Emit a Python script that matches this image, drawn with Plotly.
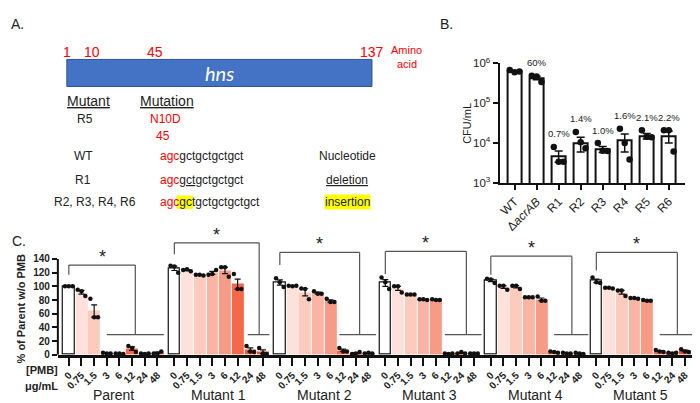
import numpy as np
import plotly.graph_objects as go

W, H = 700, 403
FONT = "Liberation Sans, Arial, sans-serif"

# ---------------- Panel B data ----------------
b_strains = ["WT", "\u0394<i>acrAB</i>", "R1", "R2", "R3", "R4", "R5", "R6"]
b_means = [6.3e5, 4.3e5, 4.8e3, 1.0e4, 7.0e3, 1.15e4, 1.5e4, 1.5e4]
b_sem = [2.5e4, 4.5e4, 1.5e3, 4.0e3, 1.2e3, 5.5e3, 2.3e3, 5.0e3]
b_rep1 = [6.8e5, 4.9e5, 8.0e3, 1.9e4, 1.0e4, 2.3e4, 2.1e4, 2.1e4]
b_rep2 = [6.0e5, 4.7e5, 3.4e3, 1.05e4, 6.4e3, 1.0e4, 1.45e4, 2.1e4]
b_rep3 = [6.2e5, 3.4e5, 3.4e3, 7.4e3, 6.3e3, 3.9e3, 1.4e4, 6.2e3]
b_pct = ["", "60%", "0.7%", "1.4%", "1.0%", "1.6%", "2.1%", "2.2%"]
b_yticks = [1e3, 1e4, 1e5, 1e6]
b_yticktext = ["10<sup>3</sup>", "10<sup>4</sup>", "10<sup>5</sup>", "10<sup>6</sup>"]

# ---------------- Panel C data ----------------
pmb_doses = ["0", "0.75", "1.5", "3", "6", "12", "24", "48"]
c_groups = ["Parent", "Mutant 1", "Mutant 2", "Mutant 3", "Mutant 4", "Mutant 5"]
c_parent = [[100, 100, 100], [95, 93, 86], [82, 55, 55], [3, 2, 2],
            [2, 2, 1], [13, 10, 4], [2, 1, 2], [2, 2, 5]]
c_mut1 = [[130, 129, 120], [124, 125, 122], [117, 117, 116], [117, 118, 124],
          [128, 128, 114], [118, 96, 96], [13, 5, 4], [10, 2, 1]]
c_mut2 = [[112, 106, 99], [101, 100, 101], [97, 96, 81], [93, 89, 89],
          [82, 77, 77], [10, 5, 5], [1, 2, 4], [2, 3, 2]]
c_mut3 = [[113, 106, 96], [100, 100, 91], [88, 88, 88], [81, 81, 80],
          [81, 80, 80], [2, 1, 2], [2, 4, 2], [2, 2, 2]]
c_mut4 = [[111, 110, 105], [101, 101, 95], [101, 101, 96], [84, 84, 84],
          [85, 79, 79], [5, 4, 3], [3, 2, 2], [3, 2, 1]]
c_mut5 = [[113, 106, 105], [98, 98, 97], [94, 94, 86], [83, 83, 82],
          [80, 79, 79], [7, 5, 4], [3, 2, 3], [8, 5, 4]]
c_data = [c_parent, c_mut1, c_mut2, c_mut3, c_mut4, c_mut5]
c_yticks = [0, 20, 40, 60, 80, 100, 120, 140]

# bracket annotation geometry (significance brackets), per group:
# (left bottom, top, right x, lower-line x0, lower-line x1)
brackets = [(117, 131, 5.25, 3.0, 7.5), (147, 163.6, 6.7, 5.8, 7.5),
            (131, 149.5, 6.3, 4.7, 7.6), (118, 151, 6.4, 4.7, 7.6),
            (117, 144, 6.4, 5.0, 7.7), (123, 149.5, 6.4, 5.0, 7.8)]
bracket_low = 29.6

dose_colors = ["#FFFFFF", "#FDE1DA", "#FCCBBE", "#FAB4A3", "#F89B86",
               "#F5694A", "#F3583A", "#F04E2E"]


def px(x):
    return x / W


def py(y):
    return 1 - y / H


fig = go.Figure()

# ---------------- Panel C ----------------
SLOT = 12.7
GROUP = 105.8 / SLOT
X0 = 59
xs, ys, cols, lws, lcs, errs, ticks, ticktext = [], [], [], [], [], [], [], []
dx, dy = [], []
offs = [-0.3, 0, 0.3]
for g, grp in enumerate(c_data):
    for i, reps in enumerate(grp):
        x = g * GROUP + i
        arr = np.array(reps, dtype=float)
        xs.append(x)
        ys.append(arr.mean())
        errs.append(arr.std(ddof=1) / np.sqrt(len(arr)))
        cols.append(dose_colors[i])
        lws.append(1.2 if i == 0 else 0)
        lcs.append("#111" if i == 0 else dose_colors[i])
        ticks.append(x)
        ticktext.append(pmb_doses[i])
        for k, v in enumerate(reps):
            dx.append(x + offs[k])
            dy.append(v)

fig.add_trace(go.Bar(x=xs, y=ys, width=0.94, xaxis="x", yaxis="y",
                     marker=dict(color=cols, line=dict(color=lcs, width=lws)),
                     error_y=dict(type="data", array=errs, color="#111",
                                  thickness=1.2, width=3),
                     showlegend=False, hoverinfo="skip"))
fig.add_trace(go.Scatter(x=dx, y=dy, mode="markers", xaxis="x", yaxis="y",
                         marker=dict(color="#111", size=4.5),
                         showlegend=False, hoverinfo="skip", cliponaxis=False))

# ---------------- Panel B ----------------
bx = list(range(len(b_strains)))
fig.add_trace(go.Bar(x=bx, y=b_means, width=0.63, xaxis="x2", yaxis="y2",
                     marker=dict(color="white", line=dict(color="#111", width=2)),
                     error_y=dict(type="data", array=b_sem, color="#111",
                                  thickness=1.5, width=4),
                     showlegend=False, hoverinfo="skip"))
bdx, bdy = [], []
boffs = [-0.22, 0, 0.22]
for k, rep in enumerate([b_rep1, b_rep2, b_rep3]):
    for i, v in enumerate(rep):
        bdx.append(i + boffs[k])
        bdy.append(v)
fig.add_trace(go.Scatter(x=bdx, y=bdy, mode="markers", xaxis="x2", yaxis="y2",
                         marker=dict(color="#111", size=6.5),
                         showlegend=False, hoverinfo="skip", cliponaxis=False))

shapes = []
annotations = []


def txt(x, y, s, size=12, color="#222", family=FONT, **kw):
    d = dict(x=px(x), y=py(y), xref="paper", yref="paper", text=s,
             showarrow=False, font=dict(size=size, color=color, family=family),
             xanchor="center", yanchor="middle")
    d.update(kw)
    annotations.append(d)


# percentage labels above B bars
for i, lab in enumerate(b_pct):
    if not lab:
        continue
    top = max(b_rep1[i], b_rep2[i], b_rep3[i], b_means[i] + b_sem[i])
    annotations.append(dict(x=i, y=np.log10(top), xref="x2", yref="y2", text=lab,
                            showarrow=False, xanchor="center", yanchor="middle", yshift=13,
                            font=dict(size=9.5, color="#222", family=FONT)))

# C brackets and asterisks
for g, (lb, top, rx, lx0, lx1) in enumerate(brackets):
    X = g * GROUP
    line = dict(color="#555", width=1.2)
    for (xa, ya, xb, yb) in [(X, lb, X, top), (X, top, X + rx, top),
                             (X + rx, top, X + rx, bracket_low),
                             (X + lx0, bracket_low, X + lx1, bracket_low)]:
        shapes.append(dict(type="line", xref="x", yref="y", x0=xa, y0=ya,
                           x1=xb, y1=yb, line=line))
    annotations.append(dict(x=X + rx / 2, y=top, xref="x", yref="y", text="*",
                            showarrow=False, xanchor="center", yanchor="bottom", yshift=-4,
                            font=dict(size=18, color="#222", family=FONT)))
    annotations.append(dict(x=X + 3.5, y=py(393), xref="x", yref="paper",
                            text=c_groups[g], showarrow=False, xanchor="center",
                            yanchor="middle",
                            font=dict(size=14, color="#222", family=FONT)))

# C y axis line
shapes.append(dict(type="line", xref="paper", yref="y", x0=px(48), x1=px(48),
                   y0=0, y1=140, line=dict(color="#111", width=2)))

# Panel A diagram
shapes.append(dict(type="rect", xref="paper", yref="paper", x0=px(57), x1=px(363),
                   y0=py(73), y1=py(45), fillcolor="#4472C4",
                   line=dict(color="#2F528F", width=1)))
shapes.append(dict(type="rect", xref="paper", yref="paper", x0=px(167), x1=px(183.5),
                   y0=py(200), y1=py(186), fillcolor="#FFFF00",
                   line=dict(width=0), layer="below"))

RED = "#FF0000"
txt(8, 8, "A.", 14)
txt(438, 8, "B.", 14)
txt(0, 233, "C.", 14, xanchor="left")
for s, x in [("1", 57.5), ("10", 82.5), ("45", 145.5), ("137", 363.5)]:
    txt(x, 37, s, 14, RED)
txt(398, 35, "Amino", 11, RED)
txt(398, 50, "acid", 11, RED)
txt(210, 59, "<i>hns</i>", 20, "white", family="Lato, Open Sans, sans-serif")
txt(78.5, 88, "<u>Mutant</u>", 14)
txt(157, 88, "<u>Mutation</u>", 14)
txt(75, 107, "R5", 12)
txt(156, 107, "N10D", 12, RED)
txt(153, 124, "45", 12, RED)
txt(73.5, 145, "WT", 12)
txt(148, 145, "<span style='color:#FF0000'>agc</span>gctgctgctgct", 12, xanchor="left")
txt(338, 145, "Nucleotide", 12)
txt(73.5, 170, "R1", 12)
txt(148, 170, "<span style='color:#FF0000'>agc</span><u>gct</u>gctgctgct", 12, xanchor="left")
txt(338, 170, "<u>deletion</u>", 12)
txt(85, 193, "R2, R3, R4, R6", 12)
txt(148, 193, "<span style='color:#FF0000'>agc</span>gctgctgctgctgct", 12, xanchor="left")
txt(338, 193, "insertion", 12, bgcolor="#FFFF00", borderpad=0)

# C labels
txt(12, 303, "<b>% of Parent w/o PMB</b>", 11, textangle=-90)
txt(50, 367, "<b>[PMB]</b>", 11, xanchor="right")
txt(50, 383, "<b>\u03bcg/mL</b>", 11, xanchor="right")
# B y title
txt(458, 111, "CFU/mL", 11, textangle=-90)

ypx_per = 0.7093
fig.update_layout(
    width=W, height=H, margin=dict(l=0, r=0, t=0, b=0),
    paper_bgcolor="white", plot_bgcolor="rgba(0,0,0,0)",
    font=dict(family=FONT, color="#222"),
    bargap=0, shapes=shapes, annotations=annotations,
    xaxis=dict(domain=[px(48), px(698)], range=[(48 - X0) / SLOT, (698 - X0) / SLOT],
               showgrid=False, zeroline=False, showline=True, linecolor="#111",
               linewidth=2.5, ticks="outside", ticklen=8, tickwidth=2, tickcolor="#111",
               tickvals=ticks, ticktext=ticktext, tickangle=-45,
               tickfont=dict(size=10, weight="bold", color="#222")),
    yaxis=dict(domain=[py(351), py(351 - 180 * ypx_per)], range=[0, 180],
               showgrid=False, zeroline=False, showline=False, ticks="outside",
               ticklen=5, tickwidth=2, tickcolor="#111", tickvals=c_yticks,
               tickfont=dict(size=10, weight="bold", color="#222")),
    xaxis2=dict(domain=[px(491), px(677)], range=[-0.68, 7.74], anchor="y2",
                showgrid=False, zeroline=False, showline=True, linecolor="#111",
                linewidth=2, ticks="outside", ticklen=5, tickwidth=1.5, tickcolor="#111",
                tickvals=bx, ticktext=b_strains, tickangle=-45,
                tickfont=dict(size=12, color="#222")),
    yaxis2=dict(domain=[py(173), py(49)], type="log", range=[3, 6], anchor="x2",
                showgrid=False, zeroline=False, showline=True, linecolor="#111",
                linewidth=2, ticks="outside", ticklen=5, tickwidth=1.5, tickcolor="#111",
                tickvals=b_yticks, ticktext=b_yticktext,
                tickfont=dict(size=11.5, color="#222")),
)

fig.write_html("out.html")
